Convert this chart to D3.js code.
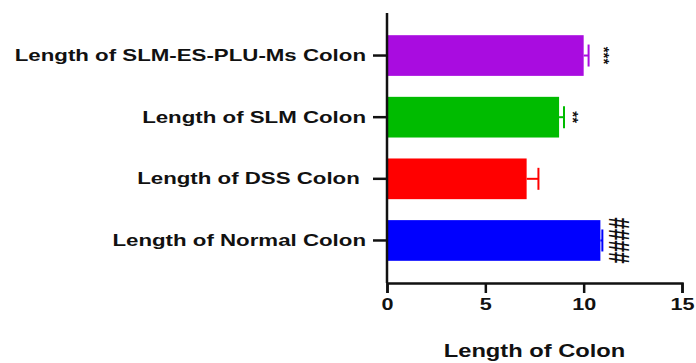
<!DOCTYPE html>
<html>
<head>
<meta charset="utf-8">
<script src="https://cdn.jsdelivr.net/npm/d3@7"></script>
<style>
  body { margin: 0; background: #fff; }
  text { font-family: "Liberation Sans", Arial, sans-serif; font-weight: bold; }
</style>
</head>
<body>
<svg id="chart" width="696" height="363"></svg>
<script>
// data (top to bottom)
var groups = ['Length of SLM-ES-PLU-Ms Colon', 'Length of SLM Colon', 'Length of DSS Colon ', 'Length of Normal Colon'];
var means = [10.0, 8.75, 7.1, 10.85];
var errors = [0.25, 0.25, 0.6, 0.1];
var colors = ['#a90ce0', '#00bb00', '#ff0000', '#0000ff'];
var marks = ['***', '**', '', '####'];
var xTicks = [0, 5, 10, 15];

var margin = { left: 387, right: 14, top: 13, bottom: 80 };
var width = 696, height = 363;
var markGap = { '***': 10, '**': 3, '####': 3 };

var svg = d3.select('#chart');

var x = d3.scaleLinear().domain([0, 15]).range([margin.left, width - margin.right]);
var y = d3.scaleBand().domain(groups)
  .range([margin.top, height - margin.bottom])
  .paddingInner(0.34)
  .paddingOuter(0.36);

var rows = groups.map(function (g, i) {
  return { name: g, value: means[i], err: errors[i], color: colors[i], mark: marks[i] };
});

// the figure's text is wider than normal
function widen(sel, k) {
  sel.each(function () {
    var w = this.getComputedTextLength();
    d3.select(this).attr('textLength', w * k).attr('lengthAdjust', 'spacingAndGlyphs');
  });
}

// bars
svg.selectAll('.bar')
  .data(rows)
  .enter().append('rect')
  .attr('class', 'bar')
  .attr('x', x(0))
  .attr('y', function (d) { return y(d.name); })
  .attr('width', function (d) { return x(d.value) - x(0); })
  .attr('height', y.bandwidth())
  .attr('fill', function (d) { return d.color; });

// error bars (one sided)
var eb = svg.selectAll('.err').data(rows).enter().append('g').attr('class', 'err')
  .attr('stroke', function (d) { return d.color; })
  .attr('stroke-width', 2);
eb.append('line')
  .attr('x1', function (d) { return x(d.value); })
  .attr('x2', function (d) { return x(d.value + d.err); })
  .attr('y1', function (d) { return y(d.name) + y.bandwidth() / 2; })
  .attr('y2', function (d) { return y(d.name) + y.bandwidth() / 2; });
eb.append('line')
  .attr('x1', function (d) { return x(d.value + d.err); })
  .attr('x2', function (d) { return x(d.value + d.err); })
  .attr('y1', function (d) { return y(d.name) + y.bandwidth() / 2 - 11; })
  .attr('y2', function (d) { return y(d.name) + y.bandwidth() / 2 + 11; });

// significance marks, rotated
svg.selectAll('.mark')
  .data(rows.filter(function (d) { return d.mark; }))
  .enter().append('text')
  .attr('class', 'mark')
  .attr('transform', function (d) {
    var xx = x(d.value + d.err) + markGap[d.mark];
    return 'translate(' + xx + ',' + (y(d.name) + y.bandwidth() / 2) + ') rotate(90)';
  })
  .attr('text-anchor', 'middle')
  .attr('font-size', function (d) { return d.mark.charAt(0) === '#' ? 29 : 15; })
  .attr('textLength', function (d) { return d.mark.charAt(0) === '#' ? 46 : null; })
  .attr('lengthAdjust', 'spacingAndGlyphs')
  .attr('dy', function (d) { return d.mark.charAt(0) === '#' ? '-0.12em' : '-0.05em'; })
  .attr('fill', '#111')
  .text(function (d) { return d.mark; });

// axes
var xAxis = svg.append('g')
  .attr('transform', 'translate(0,' + (height - margin.bottom) + ')')
  .call(d3.axisBottom(x).tickValues(xTicks).tickSize(10).tickPadding(5).tickSizeOuter(10));
xAxis.selectAll('text').attr('font-size', 17).attr('fill', '#111').call(widen, 1.27);

var yAxis = svg.append('g')
  .attr('transform', 'translate(' + margin.left + ',0)')
  .call(d3.axisLeft(y).tickSize(14).tickPadding(7).tickSizeOuter(0));
yAxis.selectAll('text').attr('font-size', 17).attr('fill', '#111').style('white-space', 'pre').call(widen, 1.31);

svg.selectAll('.domain, .tick line').attr('stroke', '#111').attr('stroke-width', 2.5);
yAxis.select('.domain').attr('d', 'M0,' + margin.top + 'V' + (height - margin.bottom));

// axis title
svg.append('text')
  .attr('x', (x(0) + x(15)) / 2)
  .attr('y', 357)
  .attr('text-anchor', 'middle')
  .attr('font-size', 18.5)
  .attr('fill', '#111')
  .text('Length of Colon')
  .call(widen, 1.28);
</script>
</body>
</html>
